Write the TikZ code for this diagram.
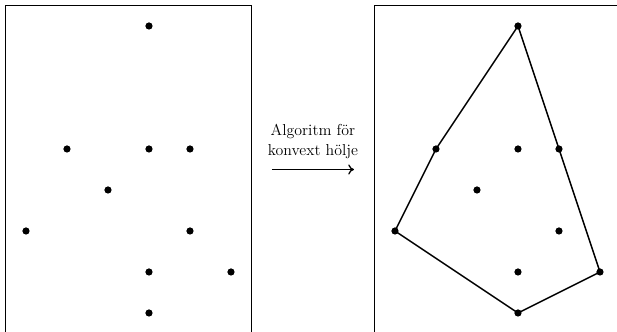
\documentclass[tikz,border=0pt]{standalone}
\usepackage{amsmath, amssymb}
\usepackage{xcolor}
\usetikzlibrary{arrows.meta}

\begin{document}
\begin{tikzpicture}[>=stealth]
\useasboundingbox (-0.634,-0.44) rectangle (14.415,7.634);
% punkter
\coordinate (P1) at (3,7);
\coordinate (P2) at (1,4);
\coordinate (P3) at (3,4);
\coordinate (P4) at (4,4);
\coordinate (P5) at (2,3);
\coordinate (P6) at (0,2);
\coordinate (P7) at (4,2);
\coordinate (P8) at (3,1);
\coordinate (P9) at (5,1);
\coordinate (P10) at (3,0);
\coordinate (Q1) at (12,7);
\coordinate (Q2) at (10,4);
\coordinate (Q3) at (12,4);
\coordinate (Q4) at (13,4);
\coordinate (Q5) at (11,3);
\coordinate (Q6) at (9,2);
\coordinate (Q7) at (13,2);
\coordinate (Q8) at (12,1);
\coordinate (Q9) at (14,1);
\coordinate (Q10) at (12,0);
\draw[line width=1.3pt] (-0.5,-0.6) rectangle (5.5,7.5);
\draw[line width=1.3pt] (8.5,-0.6) rectangle (14.6,7.5);
\draw[line width=1pt] (Q1) -- (Q4) -- (Q9) -- (Q10) -- (Q6) -- (Q2) -- cycle;
\foreach \p in {P1,P2,P3,P4,P5,P6,P7,P8,P9,P10,Q1,Q2,Q3,Q4,Q5,Q6,Q7,Q8,Q9,Q10}{
    \fill (\p) circle (2.5pt);
}
\coordinate (S) at (6,3.5);
\coordinate (T) at (8,3.5);
\draw[-{To[length=4pt,width=7pt]}, line width=0.9pt] (S) -- (T);
\node[align=center, above=4pt, font=\fontsize{11}{14}\selectfont] (L) at (7,3.5) {Algoritm för\\konvext hölje};
\end{tikzpicture}
\end{document}
